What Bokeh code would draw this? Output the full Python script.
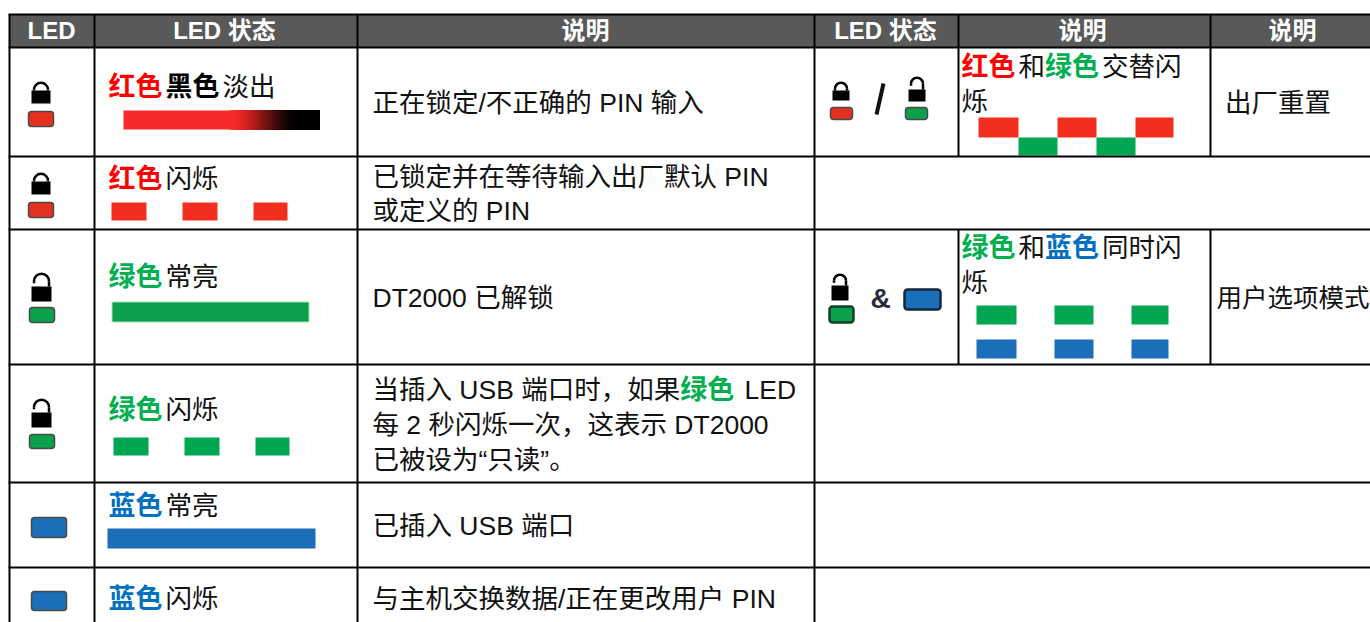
from bokeh.plotting import figure
from bokeh.models import Range1d
from bokeh.core.properties import value
from bokeh.embed import file_html
from bokeh.resources import INLINE

RED, GREEN, BLUE, BLACK = "#ff0000", "#00b050", "#0070c0", "#111111"

# ---------- content ----------
headers = ["LED", "LED 状态", "说明", "LED 状态", "说明", "说明"]

state_cells = [
    [("红色", RED, 1), ("黑色", "#000000", 1), ("淡出", BLACK, 0)],
    [("红色", RED, 1), ("闪烁", BLACK, 0)],
    [("绿色", GREEN, 1), ("常亮", BLACK, 0)],
    [("绿色", GREEN, 1), ("闪烁", BLACK, 0)],
    [("蓝色", BLUE, 1), ("常亮", BLACK, 0)],
    [("蓝色", BLUE, 1), ("闪烁", BLACK, 0)],
]
desc_cells = [
    [[("正在锁定/不正确的 PIN 输入", BLACK, 0)]],
    [[("已锁定并在等待输入出厂默认 PIN", BLACK, 0)], [("或定义的 PIN", BLACK, 0)]],
    [[("DT2000 已解锁", BLACK, 0)]],
    [[("当插入 USB 端口时，如果", BLACK, 0), ("绿色", GREEN, 1), (" LED", BLACK, 0)],
     [("每 2 秒闪烁一次，这表示 DT2000", BLACK, 0)],
     [("已被设为“只读”。", BLACK, 0)]],
    [[("已插入 USB 端口", BLACK, 0)]],
    [[("与主机交换数据/正在更改用户 PIN", BLACK, 0)]],
]
right_state_cells = [
    [[("红色", RED, 1), ("和", BLACK, 0), ("绿色", GREEN, 1), ("交替闪", BLACK, 0)], [("烁", BLACK, 0)]],
    [[("绿色", GREEN, 1), ("和", BLACK, 0), ("蓝色", BLUE, 1), ("同时闪", BLACK, 0)], [("烁", BLACK, 0)]],
]
right_desc_cells = ["出厂重置", "用户选项模式"]

# ---------- layout (page pixels) ----------
col_x = [9, 94, 357, 814, 958, 1210]
row_y = [14, 47, 156, 229, 364, 482, 567]
X_END, Y_END = 1370, 622
FONT = value("Liberation Sans, Noto Sans CJK SC")
SIZE = 26.5
DY = -8.5           # baseline correction of the renderer
BOLD_ADV = 28.5

ARIAL = {" ": .278, "/": .278, "P": .667, "I": .278, "N": .722, "D": .722, "T": .611, "L": .556,
         "E": .667, "U": .722, "S": .667, "B": .667, "“": .333, "”": .333, "2": .556, "0": .556}
def advance(s, size=SIZE, bold=0):
    if bold:
        return BOLD_ADV * len(s)
    return sum(ARIAL.get(c, 1.0) * size for c in s)

p = figure(width=1370, height=622, x_range=Range1d(0, X_END), y_range=Range1d(Y_END, 0),
           output_backend="svg", toolbar_location=None, min_border=0, outline_line_color=None,
           background_fill_color="white", border_fill_color="white")
p.xaxis.visible = False
p.yaxis.visible = False
p.grid.visible = False

def runs(x, y, items, size=SIZE):
    for txt, col, bold in items:
        lead = len(txt) - len(txt.lstrip(" "))
        p.text([x + advance(txt[:lead], size)], [y + DY], text=[txt.strip(" ")], text_font=FONT,
               text_font_size=f"{27 if bold else size}px", text_color=col,
               text_font_style="bold" if bold else "normal",
               text_align="left", text_baseline="alphabetic")
        x += advance(txt, size, bold)

def bars(lefts, rights, top, bottom, color):
    p.quad(left=lefts, right=rights, top=[top] * len(lefts), bottom=[bottom] * len(lefts),
           fill_color=color, line_color=None)

def led(l, r, t, b, fill, edge="#4a4a4a", lw=1.5, rad=3):
    p.quad(left=[l], right=[r], top=[t], bottom=[b], fill_color=fill, line_color=edge, line_width=lw,
           border_radius=rad)

def lock(l, r, t, b, top, opened=False):
    cx = (l + r) / 2
    p.quad(left=[l], right=[r], top=[t], bottom=[b], fill_color="black", line_color=None)
    rad = (r - l) / 2 - 2.5
    cy = top + rad + 1.25
    p.arc(x=[cx], y=[cy], radius=[rad], start_angle=0, end_angle=3.14159, direction="anticlock",
          line_color="black", line_width=2.5)
    p.segment(x0=[cx + rad], y0=[cy], x1=[cx + rad], y1=[t], line_color="black", line_width=2.5)
    if opened:
        p.segment(x0=[cx - rad], y0=[cy], x1=[cx - rad], y1=[cy + 2], line_color="black", line_width=2.5)
    else:
        p.segment(x0=[cx - rad], y0=[cy], x1=[cx - rad], y1=[t], line_color="black", line_width=2.5)

# ---------- header ----------
p.quad(left=[col_x[0]], right=[X_END], top=[row_y[0]], bottom=[row_y[1]], fill_color="#595959", line_color=None)
head_centres = [51, 224, 585, 885, 1082, 1292]
for c, h in zip(head_centres, headers):
    p.text([c], [38 + DY], text=[h], text_font=FONT, text_font_size="24px", text_font_style="bold",
           text_color="white", text_align="center", text_baseline="alphabetic")

# ---------- text ----------
state_base = [95, 187, 285, 418, 514, 607]
for base, cell in zip(state_base, state_cells):
    runs(108, base, cell)

desc_base = [[111], [185, 219], [306], [398, 433, 468], [534], [607]]
for bases, cell in zip(desc_base, desc_cells):
    for b, line in zip(bases, cell):
        runs(372, b, line)

for bases, cell in zip([[75, 110], [256, 291]], right_state_cells):
    for b, line in zip(bases, cell):
        runs(961, b, line)

runs(1224.5, 111, [(right_desc_cells[0], BLACK, 0)])
runs(1216, 306, [(right_desc_cells[1], BLACK, 0)], size=25.5)

# ---------- signal bars ----------
CRED, CGRN, CBLU = "#f22e1e", "#00a651", "#1b6fb8"
bars([123], [319], 110, 129, "#f62a28")
for i in range(36):
    f = i / 35
    f = f * f * (3 - 2 * f)
    col = "#%02x%02x%02x" % (int(246 * (1 - f)), int(42 * (1 - f)), int(40 * (1 - f)))
    bars([228 + 2 * i], [319], 110, 129, col)

bars([111, 182, 253], [146, 217, 287], 202, 220, CRED)
p.quad(left=[112], right=[308], top=[302], bottom=[321], fill_color="#0ba14b",
       line_color="#0ba14b", line_alpha=0.35, line_width=2)
bars([113, 184, 255], [148, 219, 289], 437, 455, CGRN)
bars([107], [315], 528, 548, CBLU)

bars([978, 1057, 1135], [1018, 1096, 1173], 117, 137, CRED)
bars([1018, 1096], [1057, 1135], 137, 155, CGRN)
bars([976, 1054, 1131], [1016, 1093, 1168], 305, 324, CGRN)
bars([976, 1054, 1131], [1016, 1093, 1168], 339, 358, CBLU)

# ---------- LED icons ----------
lock(31, 50, 90, 103, 81)
led(28, 53, 111, 126, "#e5301f")
lock(31, 50, 181, 194, 172)
led(28, 53, 202, 217, "#e5301f")
lock(31, 51, 286, 301, 272, True)
led(29, 54, 307, 322, "#0ba14b")
lock(31, 51, 412, 427, 398, True)
led(29, 54, 434, 448, "#0ba14b")
led(31, 66, 517, 537, CBLU)
led(31, 66, 591, 610, CBLU)

lock(832, 849, 90, 100, 81)
led(830, 852, 107, 119, "#e5301f")
p.segment(x0=[876], y0=[114], x1=[883], y1=[83], line_color="#111111", line_width=4)
lock(908, 925, 89, 101, 76, True)
led(905, 927, 107, 119, "#0ba14b")

lock(831, 848, 285, 300, 273, True)
led(829, 853, 306, 322, "#0ba14b", edge="#14402a", lw=2.5)
p.text([880], [306 + DY], text=["&"], text_font=value("Liberation Sans"), text_font_size="28px", text_font_style="bold",
       text_color="#2a2a3a", text_align="center", text_baseline="alphabetic")
led(904, 940, 289, 309, CBLU, edge="#16283a", lw=2.5)

# ---------- grid ----------
for x in col_x[:4]:
    p.segment(x0=[x], y0=[row_y[0]], x1=[x], y1=[Y_END], line_color="black", line_width=2)
for x in col_x[4:]:
    p.segment(x0=[x, x], y0=[row_y[0], row_y[3]], x1=[x, x], y1=[row_y[2], row_y[4]],
              line_color="black", line_width=2)
for y in row_y:
    p.segment(x0=[col_x[0] - 1], y0=[y], x1=[X_END], y1=[y], line_color="black", line_width=2)

open("out.html", "w").write(file_html(p, INLINE))
